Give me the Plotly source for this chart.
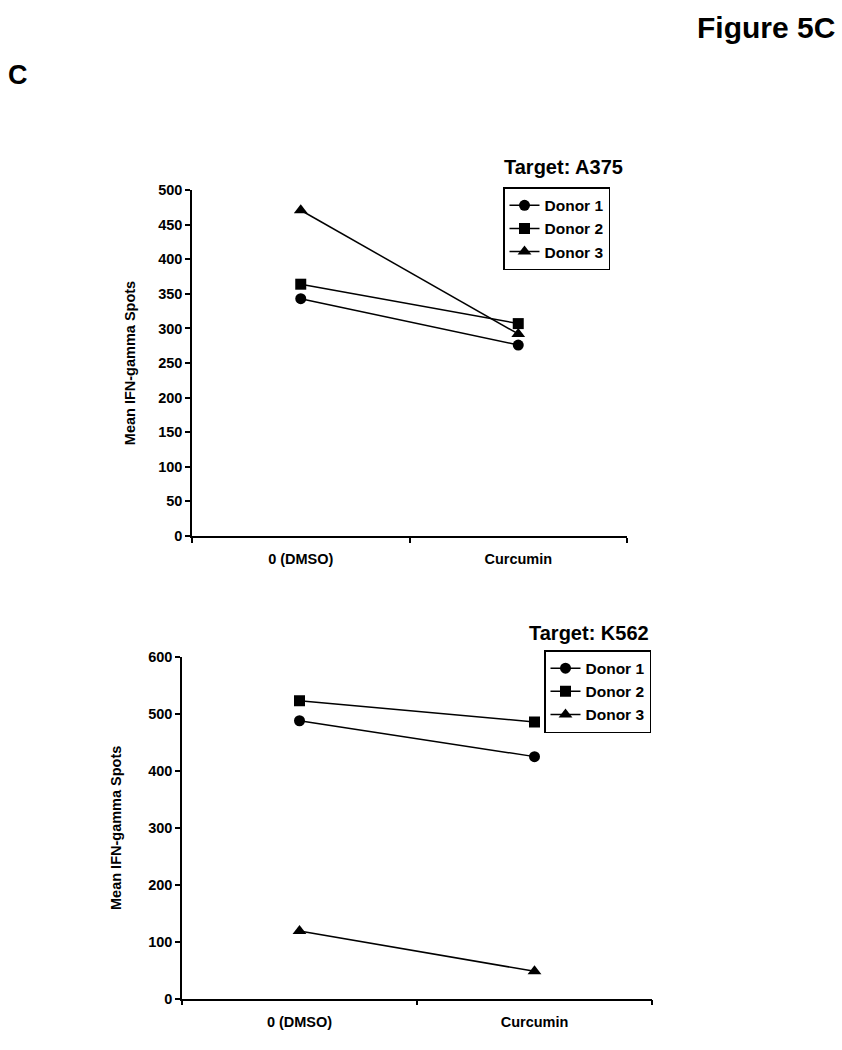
import plotly.graph_objects as go

categories = ["0 (DMSO)", "Curcumin"]
donors = ["Donor 1", "Donor 2", "Donor 3"]
symbols = ["circle", "square", "triangle-up"]

a375_values = {
    "Donor 1": [343, 276],
    "Donor 2": [364, 307],
    "Donor 3": [471, 292],
}
k562_values = {
    "Donor 1": [488, 425],
    "Donor 2": [523, 486],
    "Donor 3": [119, 48],
}

FONT = "Liberation Sans, Arial, sans-serif"
W, H = 842, 1050

fig = go.Figure()

for d, sym in zip(donors, symbols):
    fig.add_trace(go.Scatter(
        x=categories, y=a375_values[d], name=d, mode="lines+markers",
        line=dict(color="black", width=1.5),
        marker=dict(symbol=sym, size=11 if sym != "triangle-up" else 12, color="black"),
        xaxis="x", yaxis="y", legend="legend",
    ))
for d, sym in zip(donors, symbols):
    fig.add_trace(go.Scatter(
        x=categories, y=k562_values[d], name=d, mode="lines+markers",
        line=dict(color="black", width=1.5),
        marker=dict(symbol=sym, size=11 if sym != "triangle-up" else 12, color="black"),
        xaxis="x2", yaxis="y2", legend="legend2",
    ))

def px_x(p):
    return p / W

def px_y(p):
    return 1 - p / H

tickfont = dict(family=FONT, size=14.5, color="black", weight="bold")
titlefont = dict(family=FONT, size=14.5, color="black", weight="bold")
common_x = dict(type="category", tickson="boundaries", range=[-0.5, 1.5],
                showline=True, linecolor="black", linewidth=1.5,
                ticks="outside", ticklen=5, tickwidth=1.5, tickcolor="black",
                ticklabelstandoff=9,
                showgrid=False, zeroline=False, tickfont=tickfont, fixedrange=True)
common_y = dict(showline=True, linecolor="black", linewidth=1.5,
                ticks="outside", ticklen=5, tickwidth=1.5, tickcolor="black",
                showgrid=False, zeroline=False, tickfont=tickfont)

legend_font = dict(family=FONT, size=15.5, color="black", weight="bold")

fig.update_layout(
    width=W, height=H, autosize=False,
    margin=dict(l=0, r=0, t=0, b=0),
    paper_bgcolor="white", plot_bgcolor="white",
    showlegend=True,
    xaxis=dict(common_x, domain=[px_x(192), px_x(627)], anchor="y"),
    yaxis=dict(common_y, domain=[px_y(536), px_y(185)], range=[0, 500],
               tickvals=list(range(0, 501, 50)), anchor="x",
               title=dict(text="Mean IFN-gamma Spots", standoff=19, font=titlefont)),
    xaxis2=dict(common_x, domain=[px_x(182), px_x(652)], anchor="y2"),
    yaxis2=dict(common_y, domain=[px_y(1006), px_y(659)], range=[0, 600],
                tickvals=list(range(0, 601, 100)), anchor="x2",
                title=dict(text="Mean IFN-gamma Spots", standoff=23, font=titlefont)),
    legend=dict(x=px_x(503), y=px_y(182), xanchor="left", yanchor="top",
                bgcolor="white", bordercolor="black", borderwidth=1.5,
                font=legend_font, tracegroupgap=0, itemwidth=30),
    legend2=dict(x=px_x(651), y=px_y(652), xanchor="right", yanchor="top",
                 bgcolor="white", bordercolor="black", borderwidth=1.5,
                 font=legend_font, tracegroupgap=0, itemwidth=30),
    annotations=[
        dict(text="Figure 5C", x=px_x(837), y=px_y(20), xref="paper", yref="paper",
             xanchor="right", yanchor="middle", showarrow=False,
             font=dict(family=FONT, size=30, color="black", weight="bold")),
        dict(text="C", x=px_x(6), y=px_y(68), xref="paper", yref="paper",
             xanchor="left", yanchor="middle", showarrow=False,
             font=dict(family=FONT, size=27, color="black", weight="bold")),
        dict(text="Target: A375", x=px_x(563), y=px_y(161), xref="paper", yref="paper",
             xanchor="center", yanchor="middle", showarrow=False,
             font=dict(family=FONT, size=20, color="black", weight="bold")),
        dict(text="Target: K562", x=px_x(651), y=px_y(635), xref="paper", yref="paper",
             xanchor="right", yanchor="middle", showarrow=False,
             font=dict(family=FONT, size=20, color="black", weight="bold")),
    ],
)

fig.write_html("out.html", config={"displayModeBar": False},
               post_script="document.body.style.margin='0px';document.body.style.overflow='hidden';")
